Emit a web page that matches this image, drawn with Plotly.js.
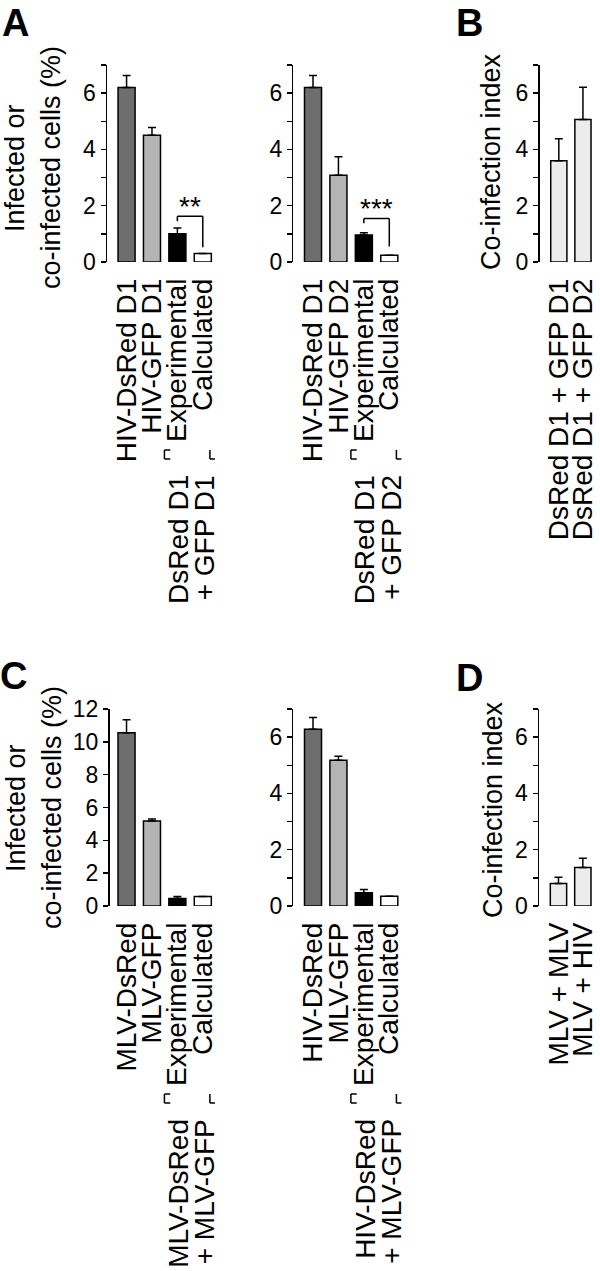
<!DOCTYPE html>
<html>
<head>
<meta charset="utf-8">
<script src="https://cdn.plot.ly/plotly-3.0.1.min.js"></script>
<style>
  html, body { margin: 0; padding: 0; background: #fff; }
  #chart { width: 600px; height: 1271px; }
</style>
</head>
<body>
<div id="chart"></div>
<script>
// values
const catsA1 = ['HIV-DsRed D1', 'HIV-GFP D1', 'Experimental', 'Calculated'];
const valsA1 = [6.2, 4.5, 1.0, 0.3];
const errA1 = [0.43, 0.28, 0.21, 0];

const catsA2 = ['HIV-DsRed D1', 'HIV-GFP D2', 'Experimental', 'Calculated'];
const valsA2 = [6.2, 3.08, 0.96, 0.24];
const errA2 = [0.43, 0.66, 0.08, 0];

const catsB = ['DsRed D1 + GFP D1', 'DsRed D1 + GFP D2'];
const valsB = [3.6, 5.06];
const errB = [0.78, 1.15];

const catsC1 = ['MLV-DsRed', 'MLV-GFP', 'Experimental', 'Calculated'];
const valsC1 = [10.55, 5.18, 0.46, 0.58];
const errC1 = [0.8, 0.12, 0.12, 0];

const catsC2 = ['HIV-DsRed', 'MLV-GFP', 'Experimental', 'Calculated'];
const valsC2 = [6.28, 5.18, 0.47, 0.35];
const errC2 = [0.42, 0.14, 0.12, 0];

const catsD = ['MLV + MLV', 'MLV + HIV'];
const valsD = [0.8, 1.37];
const errD = [0.22, 0.33];

const groupLabelsA1 = ['DsRed D1', '+ GFP D1'];
const groupLabelsA2 = ['DsRed D1', '+ GFP D2'];
const groupLabelsC1 = ['MLV-DsRed', '+ MLV-GFP'];
const groupLabelsC2 = ['HIV-DsRed', '+ MLV-GFP'];

const ticks7 = [0, 1, 2, 3, 4, 5, 6, 7];
const tickText7 = ['0', '', '2', '', '4', '', '6', ''];
const ticks12 = [0, 2, 4, 6, 8, 10, 12];
const tickText12 = ['0', '2', '4', '6', '8', '10', '12'];

const fourColors = ['#6e6e6e', '#b4b4b4', '#000000', '#ffffff'];
const indexColor = '#ececec';

const W = 600, H = 1271;
const FONT = 'Liberation Sans, Arial, Helvetica, sans-serif';
const px = v => v / W;
const py = v => 1 - v / H;
const sfx = n => (n === 1 ? '' : String(n));

function barTrace(cats, vals, errs, colors, n) {
    return {
        type: 'bar',
        x: cats,
        y: vals,
        xaxis: 'x' + sfx(n),
        yaxis: 'y' + sfx(n),
        marker: { color: colors, line: { color: '#000', width: 1.5 } },
        error_y: {
            type: 'data', array: errs, arrayminus: errs.map(() => 0),
            symmetric: false, color: '#000', thickness: 1.5, width: 4
        },
        hoverinfo: 'skip'
    };
}

const data = [
    barTrace(catsA1, valsA1, errA1, fourColors, 1),
    barTrace(catsA2, valsA2, errA2, fourColors, 2),
    barTrace(catsB, valsB, errB, indexColor, 3),
    barTrace(catsC1, valsC1, errC1, fourColors, 4),
    barTrace(catsC2, valsC2, errC2, fourColors, 5),
    barTrace(catsD, valsD, errD, indexColor, 6)
];

function xAxis(left, right, range, cats, n) {
    return {
        domain: [px(left), px(right)], range: range, type: 'category',
        anchor: 'y' + sfx(n),
        showline: false, showgrid: false, zeroline: false, ticks: '',
        tickmode: 'array', tickvals: cats, ticktext: cats,
        tickangle: -90, ticklabelstandoff: 10,
        tickfont: { family: FONT, size: 28, color: '#000' },
        fixedrange: true
    };
}

function yAxis(top, bottom, max, vals, text, n) {
    return {
        domain: [py(bottom), py(top)], range: [0, max],
        anchor: 'x' + sfx(n),
        showline: true, linewidth: 1.5, linecolor: '#000',
        ticks: 'outside', ticklen: 5, tickwidth: 1.5, tickcolor: '#000',
        tickmode: 'array', tickvals: vals, ticktext: text,
        tickfont: { family: FONT, size: 23, color: '#000' },
        showgrid: false, zeroline: false, fixedrange: true
    };
}

// pixel frame of the two rows
const topA = 65, zeroA = 262;
const topC = 709, zeroC = 906;

const layout = {
    width: W, height: H,
    margin: { l: 0, r: 0, t: 0, b: 0 },
    paper_bgcolor: '#fff', plot_bgcolor: 'rgba(0,0,0,0)',
    showlegend: false,
    bargap: 0.33,
    font: { family: FONT, color: '#000' },
    xaxis: xAxis(107, 215.5, [-0.77, 3.5], catsA1, 1),
    xaxis2: xAxis(293.3, 402, [-0.775, 3.5], catsA2, 2),
    xaxis3: xAxis(539.5, 595.5, [-0.8, 1.52], catsB, 3),
    xaxis4: xAxis(109.5, 215.5, [-0.67, 3.5], catsC1, 4),
    xaxis5: xAxis(293.3, 402, [-0.775, 3.5], catsC2, 5),
    xaxis6: xAxis(539, 595.5, [-0.8, 1.52], catsD, 6),
    yaxis: yAxis(topA, zeroA, 7, ticks7, tickText7, 1),
    yaxis2: yAxis(topA, zeroA, 7, ticks7, tickText7, 2),
    yaxis3: yAxis(topA, zeroA, 7, ticks7, tickText7, 3),
    yaxis4: yAxis(topC, zeroC, 12, ticks12, tickText12, 4),
    yaxis5: yAxis(topC, zeroC, 7, ticks7, tickText7, 5),
    yaxis6: yAxis(topC, zeroC, 7, ticks7, tickText7, 6),
    shapes: [],
    annotations: []
};

const line = { color: '#000', width: 1.5 };

// significance bracket between Experimental and Calculated
function sigBracket(n, yLeft, yTop, yRight, stars) {
    const xr = 'x' + sfx(n), yr = 'y' + sfx(n);
    layout.shapes.push(
        { type: 'line', xref: xr, yref: yr, x0: 2, x1: 2, y0: yLeft, y1: yTop, line: line },
        { type: 'line', xref: xr, yref: yr, x0: 2, x1: 3, y0: yTop, y1: yTop, line: line },
        { type: 'line', xref: xr, yref: yr, x0: 3, x1: 3, y0: yTop, y1: yRight, line: line }
    );
    layout.annotations.push({
        xref: xr, yref: yr, x: 2.5, y: yTop, yanchor: 'bottom', yshift: -8,
        text: stars, showarrow: false, font: { family: FONT, size: 28, color: '#000' }
    });
}
sigBracket(1, 1.45, 1.63, 0.52, '**');
sigBracket(2, 1.38, 1.55, 0.55, '***');

// group bracket + two-line group label under the Experimental/Calculated columns
function groupLabel(n, zeroPx, labels) {
    const xr = 'x' + sfx(n);
    const y0 = py(zeroPx + 188), y1 = py(zeroPx + 197);
    layout.shapes.push(
        { type: 'line', xref: xr, yref: 'paper', x0: 1.49, x1: 1.49, y0: y0, y1: y1, line: line },
        { type: 'line', xref: xr, yref: 'paper', x0: 1.49, x1: 1.72, y0: y0, y1: y0, line: line },
        { type: 'line', xref: xr, yref: 'paper', x0: 1.49, x1: 1.72, y0: y1, y1: y1, line: line },
        { type: 'line', xref: xr, yref: 'paper', x0: 3.28, x1: 3.28, y0: y0, y1: y1, line: line },
        { type: 'line', xref: xr, yref: 'paper', x0: 3.28, x1: 3.48, y0: y1, y1: y1, line: line }
    );
    labels.forEach((txt, i) => {
        layout.annotations.push({
            xref: xr, yref: 'paper', x: 2 + i, xshift: 1 + i, y: py(zeroPx + 211),
            xanchor: 'center', yanchor: 'top', textangle: -90,
            text: txt, showarrow: false, font: { family: FONT, size: 28, color: '#000' }
        });
    });
}
groupLabel(1, zeroA, groupLabelsA1);
groupLabel(2, zeroA, groupLabelsA2);
groupLabel(4, zeroC, groupLabelsC1);
groupLabel(5, zeroC, groupLabelsC2);

// axis titles
function sideTitle(xPx, yPx, txt) {
    layout.annotations.push({
        xref: 'paper', yref: 'paper', x: px(xPx), y: py(yPx),
        xanchor: 'center', yanchor: 'middle', textangle: -90,
        text: txt, showarrow: false, font: { family: FONT, size: 27, color: '#000' }
    });
}
sideTitle(15, 168, 'Infected or');
sideTitle(51, 168, 'co-infected cells (%)');
sideTitle(491, 162, 'Co-infection index');
sideTitle(16, 808, 'Infected or');
sideTitle(52, 808, 'co-infected cells (%)');
sideTitle(493, 810, 'Co-infection index');

// panel letters
function panelLetter(xPx, yPx, txt) {
    layout.annotations.push({
        xref: 'paper', yref: 'paper', x: px(xPx), y: py(yPx),
        xanchor: 'left', yanchor: 'top', text: '<b>' + txt + '</b>', showarrow: false,
        font: { family: FONT, size: 38, color: '#000' }
    });
}
panelLetter(0, 0, 'A');
panelLetter(454, 0, 'B');
panelLetter(-2, 653, 'C');
panelLetter(454, 655, 'D');

Plotly.newPlot('chart', data, layout, { staticPlot: true });
</script>
</body>
</html>
